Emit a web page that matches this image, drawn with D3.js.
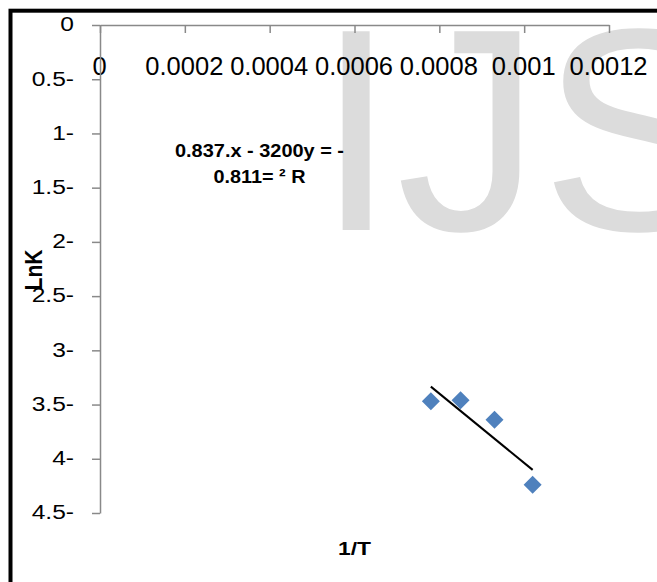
<!DOCTYPE html>
<html>
<head>
<meta charset="utf-8">
<script src="https://cdnjs.cloudflare.com/ajax/libs/d3/7.8.5/d3.min.js"></script>
<style>
	body { margin: 0; background: #fff; }
	svg text { font-family: 'Liberation Sans', Arial, sans-serif; }
</style>
</head>
<body>
<div id="chart"></div>
<script>
// values (y axis is negative, shown RTL as "0.5-")
let xTicks		= [0, 0.0002, 0.0004, 0.0006, 0.0008, 0.001, 0.0012];
let yTicks		= [0, -0.5, -1, -1.5, -2, -2.5, -3, -3.5, -4, -4.5];
let invT		= [0.00078, 0.00085, 0.00093, 0.00102];
let lnK			= [-3.47, -3.46, -3.64, -4.24];
let eqLines		= ['0.837.x - 3200y = -', '0.811= ² R'];
let xTitle		= '1/T';
let yTitle		= 'LnK';
let watermark	= 'IJS';

let width	= 657;
let height	= 582;

let svg = d3.select('#chart').append('svg')
	.attr('width', width)
	.attr('height', height);

svg.append('rect')
	.attr('width', width)
	.attr('height', height)
	.attr('fill', '#fff');

svg.append('text')
	.attr('x', 316)
	.attr('y', 230)
	.attr('font-size', 289)
	.attr('fill', '#dcdcdc')
	.text(watermark);

let x = d3.scaleLinear().domain([0, 0.0012]).range([100, 609]);
let y = d3.scaleLinear().domain([0, -4.5]).range([25, 513]);

let fmtX = d => d === 0 ? '0' : String(+d.toFixed(4));
let fmtY = d => d === 0 ? '0' : Math.abs(d) + '-';

let xAxis = svg.append('g')
	.attr('transform', 'translate(0,' + y(0) + ')')
	.attr('color', '#898989')
	.call(d3.axisTop(x).tickValues(xTicks).tickFormat(fmtX).tickSizeInner(-8).tickSizeOuter(0));

xAxis.selectAll('path, line').attr('stroke-width', 1.5);
xAxis.selectAll('text')
	.attr('x', -1)
	.attr('y', 50)
	.attr('dy', 0)
	.attr('font-size', 25.5)
	.attr('fill', '#000');

let yAxis = svg.append('g')
	.attr('transform', 'translate(' + x(0) + ',0)')
	.attr('color', '#898989')
	.call(d3.axisLeft(y).tickValues(yTicks).tickFormat(fmtY).tickSize(8).tickSizeOuter(0));

yAxis.selectAll('path, line').attr('stroke-width', 1.5);
yAxis.selectAll('text')
	.attr('x', -26 / 1.17)
	.attr('dy', '0.28em')
	.attr('transform', 'scale(1.17,1)')
	.attr('font-size', 21)
	.attr('fill', '#000');

// markers
svg.append('g').selectAll('path')
	.data(invT)
	.enter().append('path')
		.attr('d', d3.symbol(d3.symbolSquare, 162))
		.attr('transform', (d, i) => 'translate(' + x(d) + ',' + y(lnK[i]) + ')rotate(45)')
		.attr('fill', '#4f81bd');

// linear trendline, least squares
let mx		= d3.mean(invT);
let my		= d3.mean(lnK);
let slope	= d3.sum(invT, (v, i) => (v - mx) * (lnK[i] - my)) / d3.sum(invT, v => (v - mx) * (v - mx));
let icpt	= my - slope * mx;

svg.append('path')
	.datum(d3.extent(invT))
	.attr('d', d3.line().x(d => x(d)).y(d => y(slope * d + icpt)))
	.attr('fill', 'none')
	.attr('stroke', '#000')
	.attr('stroke-width', 2);

// equation label
let eqWidths = [169, 92];
svg.append('g').selectAll('text')
	.data(eqLines)
	.enter().append('text')
		.attr('x', 259.5)
		.attr('y', (d, i) => 157 + i * 26)
		.attr('text-anchor', 'middle')
		.attr('font-size', 18.5)
		.attr('font-weight', 'bold')
		.attr('textLength', (d, i) => eqWidths[i])
		.attr('lengthAdjust', 'spacingAndGlyphs')
		.text(d => d);

svg.append('text')
	.attr('x', (x.range()[0] + x.range()[1]) / 2)
	.attr('y', 555)
	.attr('text-anchor', 'middle')
	.attr('font-size', 17.5)
	.attr('font-weight', 'bold')
	.attr('textLength', 33)
	.attr('lengthAdjust', 'spacingAndGlyphs')
	.text(xTitle);

svg.append('text')
	.attr('transform', 'translate(41.5,270)rotate(-90)')
	.attr('text-anchor', 'middle')
	.attr('font-size', 24)
	.attr('font-weight', 'bold')
	.attr('textLength', 41)
	.attr('lengthAdjust', 'spacingAndGlyphs')
	.text(yTitle);

// frame, cropped at right and bottom
svg.append('rect')
	.attr('x', 10.5)
	.attr('y', 10.7)
	.attr('width', 800)
	.attr('height', 800)
	.attr('fill', 'none')
	.attr('stroke', '#000')
	.attr('stroke-width', 4);
</script>
</body>
</html>
